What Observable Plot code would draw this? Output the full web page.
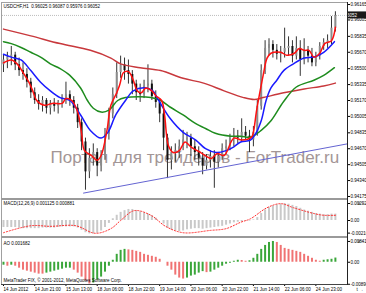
<!DOCTYPE html>
<html><head><meta charset="utf-8">
<script src="https://cdn.jsdelivr.net/npm/d3@7"></script>
<script src="https://cdn.jsdelivr.net/npm/@observablehq/plot@0.6"></script>
<style>
body{margin:0;background:#fff;}
#chart{position:relative;width:366px;height:293px;overflow:hidden;background:#fff;font-family:"Liberation Sans",Arial,sans-serif;}
#chart svg{position:absolute;left:0;}
.ln{position:absolute;}
</style></head><body><div id="chart"></div>
<script>
// ---- price candles (2-hour steps, hour index = 2*k) ----
const opens = [0.9554,0.9559,0.9562,0.9564,0.9554,0.9548,0.9544,0.9536,0.9525,0.9517,
0.9513,0.9517,0.9509,0.9514,0.9511,0.9515,0.9519,0.9523,0.9517,0.9509,
0.9494,0.9474,0.9443,0.9457,0.9463,0.9449,0.9459,0.9482,0.9503,0.9523,
0.9546,0.9554,0.9548,0.9544,0.9534,0.9525,0.9523,0.9532,0.9534,0.9521,
0.9515,0.9503,0.9478,0.9455,0.9463,0.9465,0.9469,0.9476,0.9478,0.9469,
0.9463,0.9457,0.9449,0.9455,0.9459,0.9453,0.9459,0.9467,0.9469,0.9478,
0.9480,0.9478,0.9484,0.9480,0.9476,0.9484,0.9511,0.9548,0.9571,0.9575,
0.9569,0.9565,0.9567,0.9571,0.9573,0.9563,0.9571,0.9559,0.9569,0.9563,
0.9556,0.9563,0.9573,0.9577,0.9579,0.9592];
const highs = [0.9564,0.9567,0.9573,0.9567,0.9561,0.9556,0.9550,0.9540,0.9530,0.9523,
0.9521,0.9519,0.9517,0.9519,0.9517,0.9523,0.9536,0.9527,0.9521,0.9513,
0.9498,0.9478,0.9467,0.9472,0.9467,0.9465,0.9488,0.9509,0.9530,0.9556,
0.9563,0.9561,0.9559,0.9548,0.9538,0.9534,0.9538,0.9554,0.9538,0.9527,
0.9519,0.9507,0.9482,0.9469,0.9472,0.9476,0.9486,0.9484,0.9482,0.9476,
0.9469,0.9463,0.9461,0.9465,0.9465,0.9463,0.9472,0.9476,0.9482,0.9488,
0.9486,0.9498,0.9490,0.9486,0.9490,0.9517,0.9554,0.9579,0.9581,0.9579,
0.9575,0.9573,0.9592,0.9583,0.9579,0.9583,0.9579,0.9581,0.9573,0.9571,
0.9567,0.9577,0.9581,0.9585,0.9604,0.9609];
const lows = [0.9546,0.9550,0.9553,0.9548,0.9542,0.9538,0.9530,0.9519,0.9513,0.9507,
0.9505,0.9503,0.9502,0.9505,0.9503,0.9509,0.9513,0.9511,0.9503,0.9488,
0.9465,0.9424,0.9436,0.9449,0.9438,0.9443,0.9455,0.9476,0.9498,0.9519,
0.9540,0.9538,0.9534,0.9523,0.9517,0.9515,0.9519,0.9525,0.9517,0.9509,
0.9494,0.9465,0.9436,0.9445,0.9453,0.9457,0.9465,0.9467,0.9459,0.9455,
0.9449,0.9440,0.9445,0.9447,0.9426,0.9447,0.9455,0.9461,0.9465,0.9469,
0.9472,0.9474,0.9476,0.9463,0.9469,0.9480,0.9507,0.9544,0.9563,0.9561,
0.9559,0.9556,0.9561,0.9563,0.9556,0.9559,0.9542,0.9554,0.9556,0.9552,
0.9552,0.9559,0.9569,0.9571,0.9575,0.9588];
const closes = [0.9559,0.9562,0.9564,0.9554,0.9548,0.9544,0.9536,0.9525,0.9517,0.9513,
0.9517,0.9509,0.9514,0.9511,0.9515,0.9519,0.9523,0.9517,0.9509,0.9494,
0.9474,0.9443,0.9457,0.9463,0.9449,0.9459,0.9482,0.9503,0.9523,0.9546,
0.9554,0.9548,0.9544,0.9534,0.9525,0.9523,0.9532,0.9534,0.9521,0.9515,
0.9503,0.9478,0.9455,0.9463,0.9465,0.9469,0.9476,0.9478,0.9469,0.9463,
0.9457,0.9449,0.9455,0.9459,0.9453,0.9459,0.9467,0.9469,0.9478,0.9480,
0.9478,0.9484,0.9480,0.9476,0.9484,0.9511,0.9548,0.9571,0.9575,0.9569,
0.9565,0.9567,0.9571,0.9573,0.9563,0.9571,0.9559,0.9569,0.9563,0.9556,
0.9563,0.9573,0.9577,0.9579,0.9592,0.9605];

// ---- moving averages (hour index, price) ----
const fastT = [0,4,7,10,13,15,17,21,25,30,32,35,38,40,41.5,45,48,50,53,55,58,59.5,61.5,64,66.5,68.5,70.5,73,76,78,81,82.5,84.5,87,90,93,96,101,106.5,109.5,113,118,122,127,128,129.5,131,133,135,137,142,145,149,151.5,154,156.5,159,162,164.5,168,170];
const fastV = [0.9556,0.9559,0.9555,0.9546,0.9536,0.9527,0.9517,0.9512,0.9514,0.9514,0.9519,0.9517,0.9505,0.9483,0.9465,0.9460,0.9455,0.9460,0.9486,0.9512,0.9525,0.9533,0.9546,0.9547,0.9538,0.9527,0.9525,0.9530,0.9527,0.9522,0.9517,0.9502,0.9470,0.9463,0.9465,0.9474,0.9469,0.9463,0.9457,0.9462,0.9460,0.9478,0.9476,0.9479,0.9484,0.9505,0.9522,0.9543,0.9561,0.9566,0.9567,0.9564,0.9566,0.9571,0.9569,0.9569,0.9562,0.9566,0.9576,0.9579,0.9593];
const midT = [0,4,9,14,19,24,29,34,39.5,44.5,50,53.5,57.5,62.5,66.5,73,76.5,79.5,85.5,92,98.5,103.5,109,114,118,121.5,126.5,129,132,134.5,137,140,143.5,148.5,154,159,164,169.5];
const midV = [0.9565,0.9562,0.9559,0.9548,0.9536,0.9527,0.9520,0.9517,0.9502,0.9486,0.9478,0.9484,0.9502,0.9517,0.9527,0.9530,0.9527,0.9517,0.9498,0.9484,0.9476,0.9467,0.9463,0.9465,0.9469,0.9474,0.9476,0.9482,0.9496,0.9517,0.9530,0.9538,0.9548,0.9555,0.9561,0.9562,0.9567,0.9578];
const slowT = [0,4,9,14,19,24,29,34,39.5,43,46,50,54,58.5,62.5,70,75.5,80.5,85.5,92,98.5,103.5,108.5,116.5,121.5,126.5,132,137,143.5,150,159,164,169.5];
const slowV = [0.9578,0.9576,0.9572,0.9567,0.9562,0.9555,0.9550,0.9543,0.9530,0.9517,0.9509,0.9505,0.9507,0.9517,0.9520,0.9521,0.9520,0.9517,0.9510,0.9502,0.9493,0.9488,0.9483,0.9480,0.9480,0.9479,0.9486,0.9496,0.9516,0.9531,0.9538,0.9543,0.9551];
const longT = [0,14,29,44.5,55,60,70,80.5,92,102.5,113,123,128.5,133,143.5,154,164,170];
const longV = [0.9591,0.9584,0.9576,0.9569,0.9561,0.9555,0.9551,0.9548,0.9540,0.9535,0.9527,0.9520,0.9518,0.9520,0.9525,0.9529,0.9532,0.9535];
const trendT = [41,176];
const trendV = [0.9421,0.9472];
const lastPrice = 0.96052;

// ---- MACD (per 2-hour step) ----
const macdV = [-0.0012,-0.0012,-0.0012,-0.0012,-0.0013,-0.0014,-0.0014,-0.0014,-0.0014,-0.0014,
-0.0013,-0.0013,-0.0013,-0.0013,-0.0012,-0.0011,-0.0011,-0.0011,-0.0011,-0.0013,
-0.0017,-0.0021,-0.0023,-0.0023,-0.0022,-0.0018,-0.0012,-0.0005,0.0003,0.0009,
0.0014,0.0017,0.0019,0.0019,0.0017,0.0015,0.0013,0.0011,0.0008,0.0004,
0.0000,-0.0006,-0.0013,-0.0016,-0.0018,-0.0019,-0.0018,-0.0016,-0.0015,-0.0014,
-0.0014,-0.0015,-0.0014,-0.0013,-0.0012,-0.0011,-0.0010,-0.0008,-0.0006,-0.0004,
-0.0003,-0.0002,-0.0001,-0.0001,0.0001,0.0005,0.0012,0.0018,0.0022,0.0025,
0.0027,0.0028,0.0029,0.0028,0.0026,0.0024,0.0021,0.0018,0.0016,0.0014,
0.0012,0.0011,0.0010,0.0010,0.0011,0.0011];
const signalT = [0,14,24,37,47,55,60,67,75.5,83,92,106,114,121.5,126.5,135,142,148.5,159,164,170];
const signalV = [-0.0021,-0.0009,-0.0010,-0.0009,-0.0022,-0.0014,0.0000,0.0017,0.0009,-0.0010,-0.0021,-0.0017,-0.0014,-0.0003,0.0003,0.0022,0.0029,0.0022,0.0012,0.0009,0.0009];

// ---- Awesome Oscillator (per 2-hour step) ----
const aoV = [-0.0012,-0.0016,-0.0012,-0.0016,-0.0024,-0.0032,-0.0036,-0.0040,-0.0044,-0.0048,
-0.0048,-0.0044,-0.0040,-0.0036,-0.0032,-0.0028,-0.0024,-0.0024,-0.0032,-0.0044,
-0.0060,-0.0076,-0.0088,-0.0084,-0.0072,-0.0060,-0.0040,-0.0016,0.0008,0.0032,
0.0048,0.0052,0.0050,0.0048,0.0044,0.0040,0.0032,0.0028,0.0024,0.0020,
0.0012,0.0000,-0.0016,-0.0032,-0.0052,-0.0064,-0.0068,-0.0064,-0.0056,-0.0052,
-0.0044,-0.0038,-0.0042,-0.0040,-0.0032,-0.0024,-0.0016,-0.0008,-0.0004,0.0004,
0.0008,0.0007,0.0004,0.0006,0.0016,0.0032,0.0052,0.0068,0.0080,0.0084,
0.0080,0.0068,0.0056,0.0052,0.0048,0.0044,0.0040,0.0032,0.0024,0.0016,
0.0008,0.0004,0.0008,0.0010,0.0012,0.0017];

// ---- axes ----
const priceTicks = [0.96165,0.96005,0.95835,0.95670,0.95500,0.95335,0.95170,0.95005,0.94835,0.94670,0.94505,0.94340,0.94175];
const macdTicks = [0.002921, 0, -0.002165];
const macdTickLabels = ["0.002921","0.00","-0.002165"];
const aoTicks = [0.00841, 0, -0.0089];
const aoTickLabels = ["0.00841","0.00","-0.00890"];
const timeTickHours = [0,16,32,48,64,80,96,112,128,144,160];
const timeLabels = ["14 Jun 2012","14 Jun 21:00","15 Jun 13:00","18 Jun 06:00","18 Jun 22:00","19 Jun 14:00","20 Jun 06:00","20 Jun 22:00","21 Jun 14:00","22 Jun 06:00","24 Jun 23:00"];

const titleText = "USDCHF,H1  0.96025 0.96087 0.95976 0.96052";
const macdText = "MACD(12,26,9) 0.001125 0.000881";
const aoText = "AO 0.001682";
const copyText = "MetaTrader FIX, © 2001-2012, MetaQuotes Software Corp.";
const watermark = "Портал для трейдеров - ForTrader.ru";

// ---- build ----
const FONT = "Liberation Sans, Arial, sans-serif";
const FS = 4.5;
const candles = opens.map((o, k) => ({t: 2 * k, o, h: highs[k], l: lows[k], c: closes[k]}));
const pts = (T, V) => T.map((t, i) => ({t, v: V[i]}));
const macd = macdV.map((v, k) => ({t: 2 * k, v}));
let prevCol = "#3aa63a";
const ao = aoV.map((v, k) => {
  if (k > 0) { if (v > aoV[k-1]) prevCol = "#3aa63a"; else if (v < aoV[k-1]) prevCol = "#f07373"; }
  return {t: 2 * k, v, col: prevCol};
});

const common = {
  width: 366, marginLeft: 2, marginRight: 19,
  x: {domain: [-0.5, 176.2], axis: null},
  color: {type: "identity"},
  style: {fontFamily: FONT, fontSize: FS + "px", background: "transparent", overflow: "visible", color: "#000"}
};

const price = Plot.plot({
  ...common, height: 198, marginTop: 2, marginBottom: 0,
  y: {domain: [0.94154, 0.96186], axis: null},
  marks: [
    Plot.text([watermark], {frameAnchor: "top-left", textAnchor: "start", lineAnchor: "middle", dx: 48, dy: 155.5, fontSize: 17, fill: "#a39696", fontFamily: FONT}),
    Plot.ruleY([lastPrice], {stroke: "#bdbdbd", strokeDasharray: "1,1", strokeWidth: 1}),
    Plot.ruleX(candles, {x: "t", y1: "l", y2: "h", stroke: "#333", strokeWidth: 1}),
    Plot.ruleX(candles, {x: "t", y1: "o", y2: "c", stroke: d => d.c >= d.o ? "#8c8c8c" : "#111", strokeWidth: 2}),
    Plot.line(pts(longT, longV), {x: "t", y: "v", stroke: "#c8383c", strokeWidth: 1.5, curve: "catmull-rom"}),
    Plot.line(pts(slowT, slowV), {x: "t", y: "v", stroke: "#1e8c1e", strokeWidth: 1.5, curve: "catmull-rom"}),
    Plot.line(pts(midT, midV), {x: "t", y: "v", stroke: "#1a1aff", strokeWidth: 1.5, curve: "catmull-rom"}),
    Plot.line(pts(fastT, fastV), {x: "t", y: "v", stroke: "#ff1010", strokeWidth: 1.5, curve: "catmull-rom"}),
    Plot.line(pts(trendT, trendV), {x: "t", y: "v", stroke: "#6464d2", strokeWidth: 1}),
    Plot.axisY({anchor: "right", ticks: priceTicks, tickFormat: d => d.toFixed(5), tickSize: 2, tickPadding: 1, fontSize: FS}),
    Plot.text([titleText], {frameAnchor: "top-left", textAnchor: "start", lineAnchor: "middle", dx: 1, dy: 4, fontSize: FS, fill: "#000"})
  ]
});
price.style.top = "0px";

const macdPlot = Plot.plot({
  ...common, height: 38, marginTop: 2, marginBottom: 0,
  y: {domain: [-0.00275, 0.00344], axis: null},
  marks: [
    Plot.ruleX(macd, {x: "t", y1: 0, y2: "v", stroke: "#c9c9c9", strokeWidth: 2}),
    Plot.line(pts(signalT, signalV), {x: "t", y: "v", stroke: "#ff2a2a", strokeWidth: 1, strokeDasharray: "1.2,1.8", curve: "catmull-rom"}),
    Plot.axisY({anchor: "right", ticks: macdTicks, tickFormat: d => macdTickLabels[macdTicks.indexOf(d)], tickSize: 2, tickPadding: 1, fontSize: FS}),
    Plot.text([macdText], {frameAnchor: "top-left", textAnchor: "start", lineAnchor: "middle", dx: 1, dy: 3.5, fontSize: FS, fill: "#000"})
  ]
});
macdPlot.style.top = "198px";

const aoPlot = Plot.plot({
  ...common, height: 57, marginTop: 2, marginBottom: 9,
  y: {domain: [-0.0090, 0.0096], axis: null},
  marks: [
    Plot.ruleX(ao, {x: "t", y1: 0, y2: "v", stroke: "col", strokeWidth: 2}),
    Plot.axisY({anchor: "right", ticks: aoTicks, tickFormat: d => aoTickLabels[aoTicks.indexOf(d)], tickSize: 2, tickPadding: 1, fontSize: FS}),
    Plot.axisX({ticks: timeTickHours, tickFormat: d => timeLabels[timeTickHours.indexOf(d)], tickSize: 2, tickPadding: 1, textAnchor: "start", fontSize: FS}),
    Plot.text([aoText], {frameAnchor: "top-left", textAnchor: "start", lineAnchor: "middle", dx: 1, dy: 5, fontSize: FS, fill: "#000"}),
    Plot.text([copyText], {frameAnchor: "bottom-left", textAnchor: "start", lineAnchor: "middle", dx: 1, dy: -4, fontSize: FS, fill: "#000"})
  ]
});
aoPlot.style.top = "236px";

const chart = document.getElementById("chart");
chart.append(price, macdPlot, aoPlot);

// bid price label box on the right axis, placed with the price scale
const yPos = price.scale("y").apply(lastPrice);
const svgP = d3.select(price);
svgP.append("rect").attr("x", 348).attr("y", yPos - 3.5).attr("width", 18).attr("height", 7).attr("fill", "#1a1a1a");
svgP.append("text").attr("x", 349).attr("y", yPos).attr("dy", "0.35em").attr("font-size", FS).attr("fill", "#fff").attr("font-family", FONT).text(lastPrice.toFixed(5));

// frame lines
const lines = [
  {l: 1, t: 2, w: 1, h: 283, c: "#a0a0a0"},
  {l: 1, t: 2, w: 346, h: 1, c: "#a0a0a0"},
  {l: 1, t: 197.5, w: 346, h: 2, c: "#9a9a9a"},
  {l: 1, t: 235.5, w: 346, h: 2, c: "#9a9a9a"},
  {l: 1, t: 284, w: 347, h: 1, c: "#444"},
  {l: 347, t: 2, w: 1, h: 283, c: "#222"}
];
for (const s of lines) {
  const d = document.createElement("div");
  d.className = "ln";
  Object.assign(d.style, {left: s.l + "px", top: s.t + "px", width: s.w + "px", height: s.h + "px", background: s.c});
  chart.append(d);
}
</script></body></html>
